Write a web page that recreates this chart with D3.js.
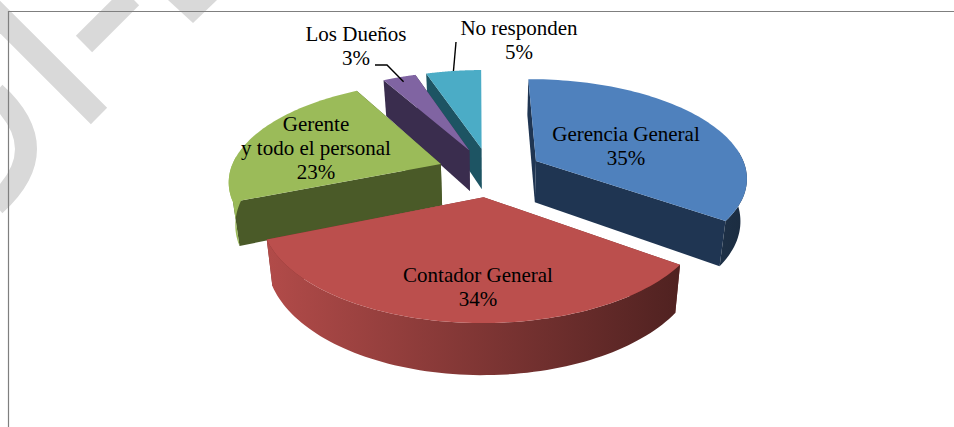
<!DOCTYPE html>
<html>
<head>
<meta charset="utf-8">
<script src="https://cdn.jsdelivr.net/npm/d3@7"></script>
<style>
  html, body { margin: 0; padding: 0; background: white; }
  svg { display: block; }
</style>
</head>
<body>
<div id="container"></div>
<script>
let w = 954;
let h = 427;

// DATA
let categories = ["Gerencia General", "Contador General", "Gerente y todo el personal", "Los Dueños", "No responden"];
let values = [35, 34, 23, 3, 5];
let labelLines = [["Gerencia General"], ["Contador General"], ["Gerente", "y todo el personal"], ["Los Dueños"], ["No responden"]];

// colours + label placement, same order as categories
let topColors = ["#4f81bd", "#bb4f4d", "#9bbb59", "#8064a2", "#4bacc6"];
let wallColors = ["#1f3552", "#7a302e", "#4a5a28", "#3a2d4e", "#1d5463"];
let labelX = [626, 478, 316, 356, 519];
let labelY = [141, 282, 131, 41, 35];
let drawOrder = [4, 3, 2, 0, 1];

// 3D pie settings
let cx = 490;
let cy = 172;
let rx = 211;
let ry = 97.6;
let persp = 0.155;
let explode = 0.25;
let depth = 42;
let converge = 0.0006; // verticals lean in going down
let rotation = -0.5 * Math.PI / 180;

let viz = d3.select("#container").append("svg")
    .attr("width", w)
    .attr("height", h)
    .style("background-color", "white")
;

// WATERMARK (sits behind everything)
let mark = viz.append("g").attr("fill", "none").attr("stroke", "#d9d9d9").attr("stroke-width", 23);
mark.append("path").attr("d", "M-17,0L99,116");
mark.append("path").attr("d", "M84,44L131,-3");
mark.append("path").attr("d", "M-5,93Q57,149 -5,205").attr("stroke-width", 22);
viz.append("path").attr("d", "M168,0L193,23L217,0Z").attr("fill", "#d9d9d9");

// FRAME
viz.append("path").attr("d", "M8.5,427V11.5H954")
    .attr("fill", "none")
    .attr("stroke", "#7f7f7f")
    .attr("stroke-width", 1.2);

// PIE
let pie = d3.pie().sort(null)
    .value(function(d){ return d; })
    .startAngle(rotation)
    .endAngle(rotation + 2 * Math.PI);
let slices = pie(values);

let defs = viz.append("defs");
let lineMaker = d3.line();

// ground point (u to the right, v going away from the viewer) to screen
function project(u, v, lift){
  let s = 1 / (1 + persp * v);
  return [cx + rx * u * s * (1 - converge * lift), cy - ry * v * s + lift * s];
}

function slicePoint(d, a, r, lift){
  let mid = (d.startAngle + d.endAngle) / 2;
  let u = explode * Math.sin(mid) + r * Math.sin(a);
  let v = explode * Math.cos(mid) + r * Math.cos(a);
  return project(u, v, lift);
}

function arcPoints(d, lift, frontOnly){
  let pts = [];
  let n = 80;
  for(let k = 0; k <= n; k++){
    let a = d.startAngle + (d.endAngle - d.startAngle) * k / n;
    // rim only shows on the side facing us
    if(frontOnly && Math.cos(a) > 0.1){
      continue;
    }
    pts.push(slicePoint(d, a, 1, lift));
  }
  return pts;
}

drawOrder.forEach(function(i){
  let d = slices[i];
  let g = viz.append("g").attr("class", "slice");

  // side gets darker going right
  let gradId = "wall" + i;
  let grad = defs.append("linearGradient")
      .attr("id", gradId)
      .attr("gradientUnits", "userSpaceOnUse")
      .attr("x1", 228).attr("x2", 746).attr("y1", 0).attr("y2", 0);
  grad.append("stop").attr("offset", 0).attr("stop-color", d3.interpolateRgb(topColors[i], "#000")(0));
  grad.append("stop").attr("offset", 1).attr("stop-color", d3.interpolateRgb(topColors[i], "#000")(0.66));

  // the two cut faces
  [d.endAngle, d.startAngle].forEach(function(a){
    let wall = [slicePoint(d, a, 0, 0), slicePoint(d, a, 1, 0), slicePoint(d, a, 1, depth), slicePoint(d, a, 0, depth)];
    g.append("path").attr("d", lineMaker(wall) + "Z").attr("fill", wallColors[i]);
  });

  // outer rim
  let rimTop = arcPoints(d, 0, true);
  if(rimTop.length > 1){
    let rim = rimTop.concat(arcPoints(d, depth, true).reverse());
    g.append("path").attr("d", lineMaker(rim) + "Z").attr("fill", "url(#" + gradId + ")");
  }

  // top
  let top = [slicePoint(d, 0, 0, 0)].concat(arcPoints(d, 0, false));
  g.append("path").attr("d", lineMaker(top) + "Z").attr("fill", topColors[i]);
});

// LEADER LINES
let leaders = [
  [[375, 65], [387, 65], slicePoint(slices[3], (slices[3].startAngle + slices[3].endAngle) / 2, 0.93, 0)],
  [[456, 42], slicePoint(slices[4], (slices[4].startAngle + slices[4].endAngle) / 2, 1, 0)]
];
viz.selectAll(".leader").data(leaders).enter()
  .append("path")
    .attr("class", "leader")
    .attr("d", lineMaker)
    .attr("fill", "none")
    .attr("stroke", "black")
    .attr("stroke-width", 1.4);

// LABELS
categories.forEach(function(c, i){
  let lines = labelLines[i].concat([values[i] + "%"]);
  let text = viz.append("text")
      .attr("text-anchor", "middle")
      .attr("font-family", "'Liberation Serif', serif")
      .attr("font-size", 21)
      .attr("fill", "black");
  lines.forEach(function(line, j){
    text.append("tspan")
      .attr("x", labelX[i])
      .attr("y", labelY[i] + j * 24)
      .text(line);
  });
});
</script>
</body>
</html>
